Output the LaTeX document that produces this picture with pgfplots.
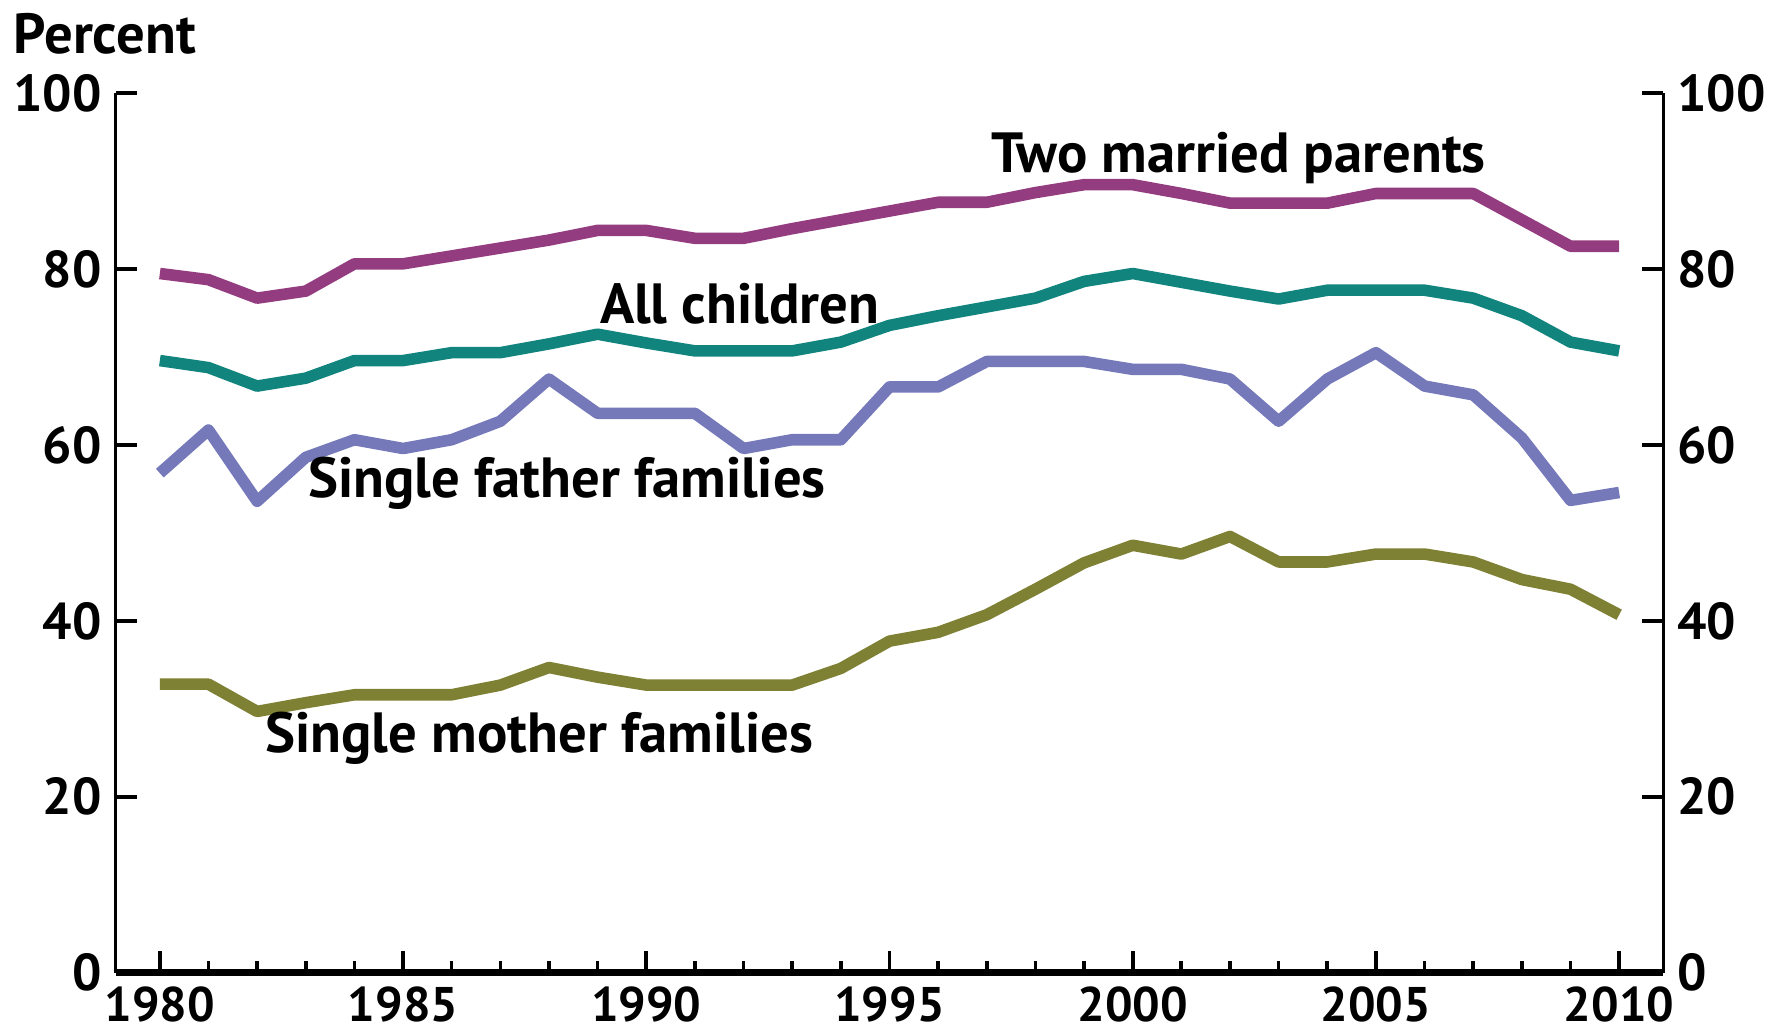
\documentclass[border=0pt]{standalone}
\usepackage{fontspec}
\setmainfont{PT Sans}
\usepackage{pgfplots}
\pgfplotsset{compat=1.18}

\definecolor{married}{HTML}{943C80}
\definecolor{allkids}{HTML}{11847E}
\definecolor{father}{HTML}{7579BA}
\definecolor{mother}{HTML}{7E8033}

\pgfplotsset{
  base/.style={
    scale only axis,
    width=13.64cm, height=7.75cm,
    xmin=1979.09, xmax=2010.91,
    ymin=0, ymax=100,
    ytick={0,20,...,100},
    tick align=inside,
    /pgf/number format/assume math mode=true,
    /pgf/number format/1000 sep={},
    tick label style={font=\bfseries\fontsize{13}{13}\selectfont},
    tick style={black, line width=0.9pt},
    major tick length=0.19cm,
    minor tick length=0.1cm,
    y axis line style={line width=0.9pt},
  },
}
\tikzset{
  series/.style={line width=2.9pt, line join=round},
  lbl/.style={font=\bfseries\fontsize{14.2}{14.2}\selectfont},
}

\begin{document}
\begin{tikzpicture}
% right-hand y axis
\begin{axis}[base,
  axis x line=none, axis y line*=right,
  xtick=\empty]
\end{axis}

\begin{axis}[base,
  axis x line*=bottom, axis y line*=left,
  x axis line style={line width=1.8pt},
  xtick={1980,1985,...,2010},
  minor xtick={1980,...,2010},
  xticklabel style={font=\bfseries\fontsize{12.2}{12.2}\selectfont},
  clip=false]

% Two married parents
\addplot[series, married] coordinates {
 (1980,79.5) (1981,78.8) (1982,76.7) (1983,77.5) (1984,80.6) (1985,80.6)
 (1986,81.5) (1987,82.4) (1988,83.3) (1989,84.4) (1990,84.4) (1991,83.5)
 (1992,83.5) (1993,84.6) (1994,85.6) (1995,86.6) (1996,87.6) (1997,87.6)
 (1998,88.7) (1999,89.6) (2000,89.6) (2001,88.6) (2002,87.5) (2003,87.5)
 (2004,87.5) (2005,88.6) (2006,88.6) (2007,88.6) (2008,85.6) (2009,82.6)
 (2010,82.6)};

% All children
\addplot[series, allkids] coordinates {
 (1980,69.6) (1981,68.8) (1982,66.7) (1983,67.6) (1984,69.6) (1985,69.6)
 (1986,70.5) (1987,70.5) (1988,71.5) (1989,72.6) (1990,71.6) (1991,70.7)
 (1992,70.7) (1993,70.7) (1994,71.7) (1995,73.6) (1996,74.7) (1997,75.7)
 (1998,76.7) (1999,78.6) (2000,79.5) (2001,78.5) (2002,77.5) (2003,76.6)
 (2004,77.6) (2005,77.6) (2006,77.6) (2007,76.7) (2008,74.7) (2009,71.7)
 (2010,70.7)};

% Single father families
\addplot[series, father] coordinates {
 (1980,56.8) (1981,61.7) (1982,53.6) (1983,58.6) (1984,60.6) (1985,59.6)
 (1986,60.6) (1987,62.7) (1988,67.5) (1989,63.6) (1990,63.6) (1991,63.6)
 (1992,59.6) (1993,60.6) (1994,60.6) (1995,66.6) (1996,66.6) (1997,69.5)
 (1998,69.5) (1999,69.5) (2000,68.6) (2001,68.6) (2002,67.5) (2003,62.7)
 (2004,67.5) (2005,70.5) (2006,66.7) (2007,65.7) (2008,60.8) (2009,53.7)
 (2010,54.6)};

% Single mother families
\addplot[series, mother] coordinates {
 (1980,32.8) (1981,32.8) (1982,29.7) (1983,30.7) (1984,31.6) (1985,31.6)
 (1986,31.6) (1987,32.7) (1988,34.7) (1989,33.6) (1990,32.7) (1991,32.7)
 (1992,32.7) (1993,32.7) (1994,34.6) (1995,37.7) (1996,38.7) (1997,40.7)
 (1998,43.6) (1999,46.6) (2000,48.6) (2001,47.6) (2002,49.6) (2003,46.7)
 (2004,46.7) (2005,47.6) (2006,47.6) (2007,46.7) (2008,44.7) (2009,43.6)
 (2010,40.7)};

\node[lbl] at (axis cs:2002.18,92.6) {Two married parents};
\node[lbl] at (axis cs:1991.92,76.1) {All children};
\node[lbl] at (axis cs:1988.37,55.7) {Single father families};
\node[lbl] at (axis cs:1987.8,26.7) {Single mother families};
\node[anchor=base west, xshift=-1.02cm, yshift=0.35cm,
  font=\bfseries\fontsize{14.2}{14.2}\selectfont] at (rel axis cs:0,1) {Percent};
\end{axis}
\end{tikzpicture}
\end{document}
